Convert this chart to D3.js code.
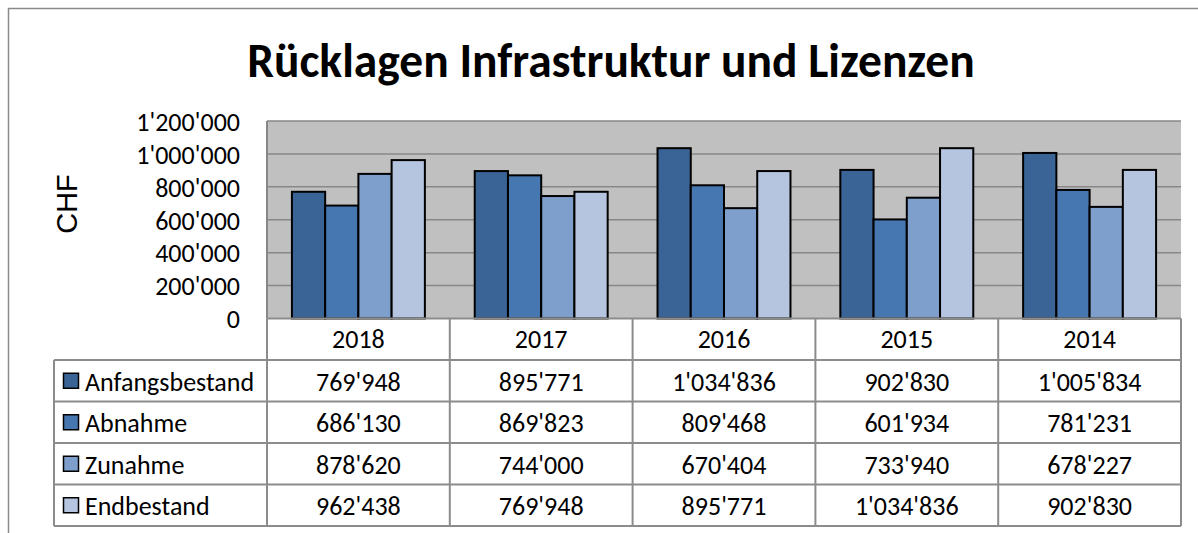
<!DOCTYPE html>
<html>
<head>
<meta charset="utf-8">
<script src="https://cdn.jsdelivr.net/npm/d3@7"></script>
<style>
  html, body { margin: 0; padding: 0; background: #ffffff; }
  svg { display: block; }
</style>
</head>
<body>
<svg id="chart" width="1198" height="533"></svg>
<script>
// ---------- data ----------
const years = ["2018", "2017", "2016", "2015", "2014"];
const seriesNames = ["Anfangsbestand", "Abnahme", "Zunahme", "Endbestand"];
const anfangsbestand = [769948, 895771, 1034836, 902830, 1005834];
const abnahme = [686130, 869823, 809468, 601934, 781231];
const zunahme = [878620, 744000, 670404, 733940, 678227];
const endbestand = [962438, 769948, 895771, 1034836, 902830];
const yTicks = [0, 200000, 400000, 600000, 800000, 1000000, 1200000];
const seriesColors = ["#3b6496", "#4677b1", "#7e9ecc", "#b5c4df"];
const titleText = "Rücklagen Infrastruktur und Lizenzen";
const yAxisTitle = "CHF";

const seriesValues = [anfangsbestand, abnahme, zunahme, endbestand];

// ---------- layout ----------
const svg = d3.select("#chart");
const W = 1198, H = 533;
const plotLeft = 267, plotRight = 1181, plotTop = 121, plotBottom = 318.5;
const tableLeft = 54;
const rowH = 41.5;
const headerBottom = 360;
const calibri = "Carlito, Calibri, Lato, sans-serif";
const textSize = 26;
const gridColor = "#878787";
const tableColor = "#8c8c8c";

const fmt = d3.formatLocale({decimal: ".", thousands: "'", grouping: [3], currency: ["", ""]}).format(",d");

const x = d3.scaleBand().domain(years).range([plotLeft, plotRight]).paddingInner(0).paddingOuter(0);
const xs = d3.scaleBand().domain(seriesNames).range([0, x.bandwidth()]).paddingInner(0).paddingOuter(0.75);
const y = d3.scaleLinear().domain([0, 1200000]).range([plotBottom, plotTop]);

// outer border
svg.append("path")
  .attr("d", `M8.5,${H} L8.5,8.5 L${W},8.5`)
  .attr("fill", "none").attr("stroke", "#8a8a8a").attr("stroke-width", 1.5);

// title
svg.append("text")
  .attr("x", 611).attr("y", 77)
  .attr("text-anchor", "middle")
  .attr("font-family", calibri).attr("font-weight", "bold").attr("font-size", 47.5)
  .attr("fill", "#000")
  .text(titleText);

// plot background
svg.append("rect")
  .attr("x", plotLeft).attr("y", plotTop)
  .attr("width", plotRight - plotLeft).attr("height", plotBottom - plotTop)
  .attr("fill", "#c0c0c0");

// gridlines
svg.append("g").selectAll("line").data(yTicks.filter(d => d > 0)).join("line")
  .attr("x1", plotLeft).attr("x2", plotRight)
  .attr("y1", d => y(d)).attr("y2", d => y(d))
  .attr("stroke", gridColor).attr("stroke-width", 1.5);

// y axis labels
const yAxis = d3.axisLeft(y).tickValues(yTicks).tickFormat(fmt).tickSize(0).tickPadding(0);
const yG = svg.append("g").attr("transform", `translate(240,1)`).call(yAxis);
yG.select(".domain").remove();
yG.selectAll("text")
  .attr("font-family", calibri).attr("font-size", textSize).attr("fill", "#000");

// y axis title
svg.append("text")
  .attr("transform", `translate(77,204) rotate(-90)`)
  .attr("text-anchor", "middle")
  .attr("font-family", "Liberation Sans, Arial, sans-serif").attr("font-size", 29)
  .attr("fill", "#000")
  .text(yAxisTitle);

// bars
const groups = svg.append("g").selectAll("g").data(years).join("g")
  .attr("transform", d => `translate(${x(d)},0)`);
groups.selectAll("rect")
  .data((yr, i) => seriesNames.map((s, j) => ({s, j, v: seriesValues[j][i]})))
  .join("rect")
  .attr("x", d => xs(d.s))
  .attr("width", xs.bandwidth())
  .attr("y", d => y(d.v))
  .attr("height", d => y(0) - y(d.v))
  .attr("fill", d => seriesColors[d.j])
  .attr("stroke", "#000").attr("stroke-width", 2);

// plot left border
svg.append("line")
  .attr("x1", plotLeft).attr("x2", plotLeft)
  .attr("y1", plotTop).attr("y2", plotBottom)
  .attr("stroke", gridColor).attr("stroke-width", 2);

// ---------- data table ----------
const tableBottom = headerBottom + rowH * seriesNames.length;
const tg = svg.append("g");
tg.append("line")
  .attr("x1", plotLeft).attr("x2", plotRight)
  .attr("y1", plotBottom).attr("y2", plotBottom)
  .attr("stroke", tableColor).attr("stroke-width", 2);
tg.selectAll("line.h").data(d3.range(seriesNames.length + 1)).join("line")
  .attr("class", "h")
  .attr("x1", tableLeft).attr("x2", plotRight)
  .attr("y1", i => headerBottom + i * rowH).attr("y2", i => headerBottom + i * rowH)
  .attr("stroke", tableColor).attr("stroke-width", 2);
const boundaries = years.map(d => x(d)).concat([plotRight]);
tg.selectAll("line.v").data(boundaries).join("line")
  .attr("class", "v")
  .attr("x1", d => d).attr("x2", d => d)
  .attr("y1", plotBottom).attr("y2", tableBottom)
  .attr("stroke", tableColor).attr("stroke-width", 2);
tg.append("line")
  .attr("x1", tableLeft).attr("x2", tableLeft)
  .attr("y1", headerBottom).attr("y2", tableBottom)
  .attr("stroke", tableColor).attr("stroke-width", 2);

// year headers
tg.selectAll("text.yr").data(years).join("text")
  .attr("class", "yr")
  .attr("x", d => x(d) + x.bandwidth() / 2)
  .attr("y", (plotBottom + headerBottom) / 2)
  .attr("dy", "0.35em")
  .attr("text-anchor", "middle")
  .attr("font-family", calibri).attr("font-size", textSize).attr("fill", "#000")
  .text(d => d);

// rows
seriesNames.forEach((s, j) => {
  const cy = headerBottom + j * rowH + rowH / 2 + 1;
  tg.append("rect")
    .attr("x", 63.5).attr("y", cy - 8.5)
    .attr("width", 15).attr("height", 15)
    .attr("fill", seriesColors[j]).attr("stroke", "#000").attr("stroke-width", 1.5);
  tg.append("text")
    .attr("x", 85).attr("y", cy).attr("dy", "0.35em")
    .attr("font-family", calibri).attr("font-size", textSize).attr("fill", "#000")
    .text(s);
  tg.selectAll(null).data(years).join("text")
    .attr("x", d => x(d) + x.bandwidth() / 2)
    .attr("y", cy).attr("dy", "0.35em")
    .attr("text-anchor", "middle")
    .attr("font-family", calibri).attr("font-size", textSize).attr("fill", "#000")
    .text((d, i) => fmt(seriesValues[j][i]));
});
</script>
</body>
</html>
